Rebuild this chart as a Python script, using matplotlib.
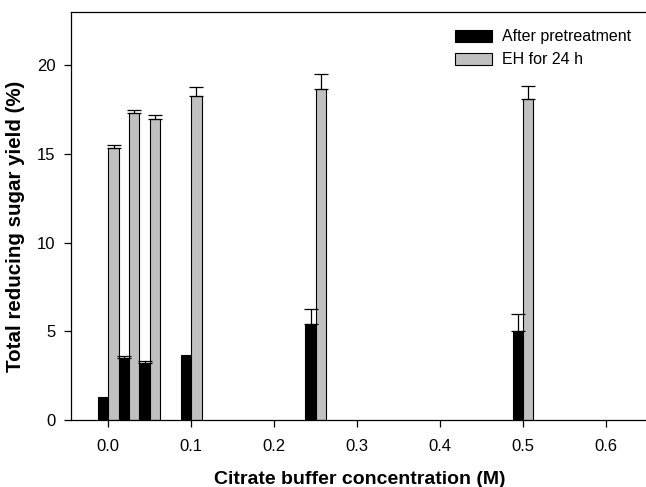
import numpy as np
import matplotlib
matplotlib.use('Agg')
import matplotlib.pyplot as plt

plt.rcParams['font.family'] = ['Liberation Sans', 'DejaVu Sans']

# citrate buffer concentration (M)
conc = [0.0, 0.025, 0.05, 0.1, 0.25, 0.5]

# total reducing sugar yield (%)
after_pre = [1.28, 3.52, 3.20, 3.65, 5.42, 5.00]
after_pre_err = [0.0, 0.10, 0.13, 0.0, 0.83, 1.00]
eh_24h = [15.37, 17.31, 16.99, 18.27, 18.68, 18.13]
eh_24h_err = [0.15, 0.17, 0.22, 0.54, 0.83, 0.74]

W, H = 646, 487
fig = plt.figure(figsize=(W / 100, H / 100), dpi=100)
ax = fig.add_axes([71 / W, 1 - 420 / H, 576.5 / W, (420 - 12.3) / H])

bw = 0.0125
x = np.array(conc)
ax.bar(x, after_pre, width=-bw, align='edge', color='black',
       edgecolor='black', linewidth=0.8, label='After pretreatment', zorder=2)
ax.bar(x, eh_24h, width=bw, align='edge', color='#c0c0c0',
       edgecolor='black', linewidth=0.8, label='EH for 24 h', zorder=2)


def upper_err(xpos, vals, errs):
    # draw only the upper half, skip points with no error
    xpos, vals, errs = np.array(xpos), np.array(vals), np.array(errs)
    m = errs > 0
    ax.errorbar(xpos[m], vals[m], yerr=[np.zeros(m.sum()), errs[m]],
                fmt='none', ecolor='black', elinewidth=0.9, capsize=5,
                capthick=0.9, zorder=3)


upper_err(x - bw / 2, after_pre, after_pre_err)
upper_err(x + bw / 2, eh_24h, eh_24h_err)

ax.set_xlim(-0.045, 0.65)
ax.set_ylim(0, 23)
ax.set_xticks([0.0, 0.1, 0.2, 0.3, 0.4, 0.5, 0.6])
ax.set_xticklabels(['0.0', '0.1', '0.2', '0.3', '0.4', '0.5', '0.6'])
ax.set_yticks([0, 5, 10, 15, 20])
ax.tick_params(axis='both', direction='out', length=5, width=0.9, labelsize=12, pad=6)
ax.tick_params(axis='x', pad=9)

ax.spines['right'].set_visible(False)
for s in ['left', 'bottom', 'top']:
    ax.spines[s].set_linewidth(0.9)

ax.set_xlabel('Citrate buffer concentration (M)', fontsize=14, fontweight='bold')
ax.set_ylabel('Total reducing sugar yield (%)', fontsize=14.8, fontweight='bold')
ax.xaxis.set_label_coords(0.501, -0.125)
ax.yaxis.set_label_coords(-0.079, 0.474)

ax.legend(loc='upper left', bbox_to_anchor=(0.666, 0.958), frameon=False, fontsize=11.5,
          borderpad=0, borderaxespad=0, handlelength=2.3, handleheight=0.75,
          handletextpad=0.63, labelspacing=0.5)

fig.savefig('out.png', dpi=100)
